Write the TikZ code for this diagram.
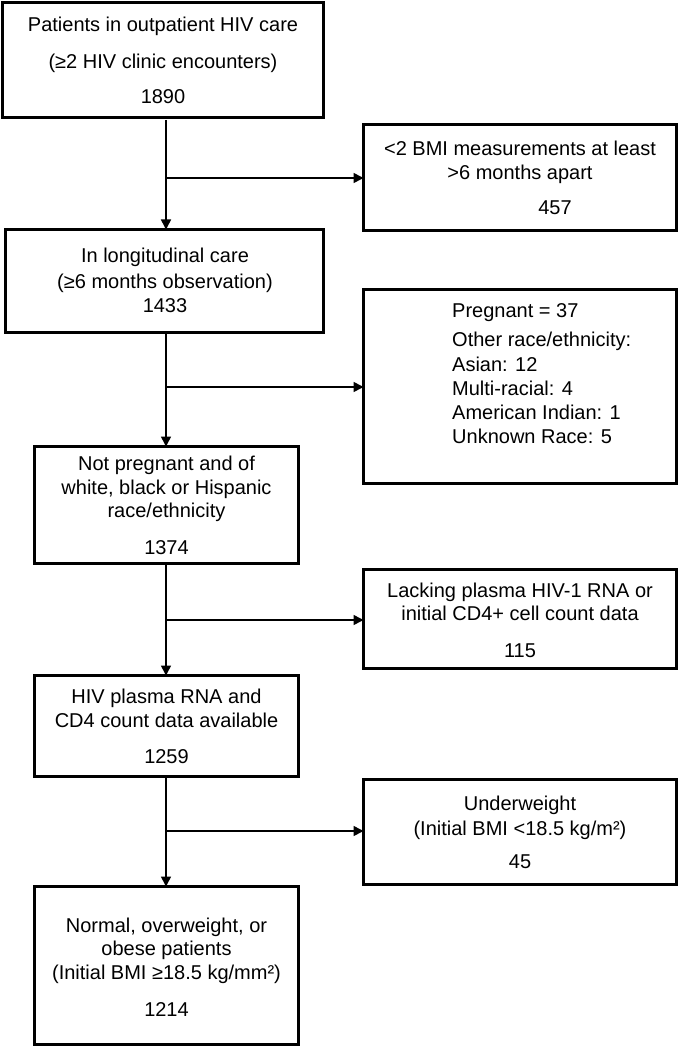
\documentclass[tikz,border=0pt]{standalone}
\usepackage{fontspec}
\setmainfont{Liberation Sans}
\usetikzlibrary{arrows.meta}
\tikzset{
  box/.style={draw, line width=2.8pt, inner sep=0pt, outer sep=0pt},
  txt/.style={anchor=base, inner sep=0pt, font=\fontsize{20}{24}\selectfont},
  txtl/.style={txt, anchor=base west},
  conn/.style={line width=1.6pt},
  arr/.style={conn, -{Triangle[length=10pt,width=10pt]}}
}
\begin{document}
\begin{tikzpicture}[x=1pt,y=-1pt]
\useasboundingbox (0,0) rectangle (679,1048);
% boxes
\node[box, minimum width=321pt, minimum height=115pt] (b1) at (163,60) {};
\node[box, minimum width=313pt, minimum height=106pt] (b2) at (520,177.5) {};
\node[box, minimum width=318pt, minimum height=103pt] (b3) at (164.5,281) {};
\node[box, minimum width=313pt, minimum height=194pt] (b4) at (520,386.5) {};
\node[box, minimum width=264pt, minimum height=117pt] (b5) at (166.5,505) {};
\node[box, minimum width=313pt, minimum height=99pt] (b6) at (520,619) {};
\node[box, minimum width=264pt, minimum height=101pt] (b7) at (166.5,726) {};
\node[box, minimum width=313pt, minimum height=105pt] (b8) at (520,832) {};
\node[box, minimum width=264pt, minimum height=158pt] (b9) at (166.5,965.5) {};
% texts
\node[txt] (t1a) at (163,32) {Patients in outpatient HIV care};
\node[txt] (t1b) at (163,69) {(≥2 HIV clinic encounters)};
\node[txt] (t1c) at (163,104) {1890};
\node[txt] (t2a) at (520,156) {<2 BMI measurements at least};
\node[txt] (t2b) at (520,180) {>6 months apart};
\node[txt] (t2c) at (555,215) {457};
\node[txt] (t3a) at (165,263) {In longitudinal care};
\node[txt] (t3b) at (165,288) {(≥6 months observation)};
\node[txt] (t3c) at (165,312) {1433};
\node[txtl] (t4a) at (452,317) {Pregnant = 37};
\node[txtl] (t4b) at (452,346) {Other race/ethnicity:};
\node[txtl] (t4c) at (452,371) {Asian: 12};
\node[txtl] (t4d) at (452,395) {Multi-racial: 4};
\node[txtl] (t4e) at (452,419) {American Indian: 1};
\node[txtl] (t4f) at (452,443) {Unknown Race: 5};
\node[txt] (t5a) at (166.5,470) {Not pregnant and of};
\node[txt] (t5b) at (166.5,494) {white, black or Hispanic};
\node[txt] (t5c) at (166.5,517) {race/ethnicity};
\node[txt] (t5d) at (166.5,554) {1374};
\node[txt] (t6a) at (520,597) {Lacking plasma HIV-1 RNA or};
\node[txt] (t6b) at (520,620) {initial CD4+ cell count data};
\node[txt] (t6c) at (520,657) {115};
\node[txt] (t7a) at (166.5,703) {HIV plasma RNA and};
\node[txt] (t7b) at (166.5,727) {CD4 count data available};
\node[txt] (t7c) at (166.5,763) {1259};
\node[txt] (t8a) at (520,810) {Underweight};
\node[txt] (t8b) at (520,835) {(Initial BMI <18.5 kg/m²)};
\node[txt] (t8c) at (520,868) {45};
\node[txt] (t9a) at (166.5,932) {Normal, overweight, or};
\node[txt] (t9b) at (166.5,955) {obese patients};
\node[txt] (t9c) at (166.5,979) {(Initial BMI ≥18.5 kg/mm²)};
\node[txt] (t9d) at (166.5,1016) {1214};
% junctions
\coordinate (j1) at (166,178);
\coordinate (j2) at (166,387);
\coordinate (j3) at (166,620);
\coordinate (j4) at (166,831);
% connectors
\draw[arr, shorten <=2.5pt] (b1.south -| j1) -- (b3.north -| j1);
\draw[arr] (j1) -- (j1 -| b2.west);
\draw[arr, shorten <=1pt] (b3.south -| j2) -- (b5.north -| j2);
\draw[arr] (j2) -- (j2 -| b4.west);
\draw[arr, shorten <=1pt] (b5.south -| j3) -- (b7.north -| j3);
\draw[arr] (j3) -- (j3 -| b6.west);
\draw[arr, shorten <=1pt] (b7.south -| j4) -- (b9.north -| j4);
\draw[arr] (j4) -- (j4 -| b8.west);
\end{tikzpicture}
\end{document}
